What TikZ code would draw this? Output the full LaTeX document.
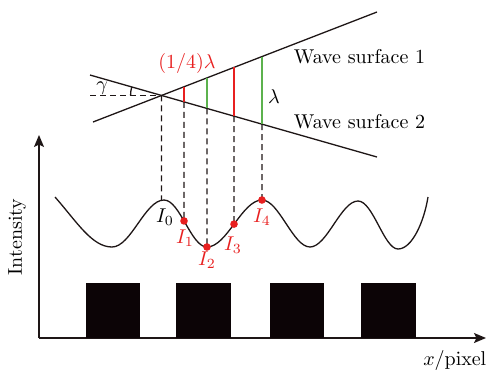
\documentclass[tikz,border=0pt]{standalone}
\usetikzlibrary{arrows.meta,intersections,calc}
\definecolor{wred}{RGB}{232,32,32}
\definecolor{wgreen}{RGB}{92,178,78}
\definecolor{barcol}{RGB}{12,4,6}
\definecolor{linecol}{RGB}{30,22,22}
\begin{document}
\begin{tikzpicture}[x=0.5pt,y=-0.5pt, line width=0.65pt, draw=linecol,
  lbl/.style={font=\fontsize{10}{12}\selectfont, inner sep=0pt},
  surf/.style={line width=0.65pt},
  guide/.style={dash pattern=on 3pt off 2pt, line width=0.6pt},
  redseg/.style={draw=wred, line width=0.65pt},
  greenseg/.style={draw=wgreen, line width=0.65pt},
  dot/.style={circle, fill=wred, draw=none, inner sep=0pt, minimum size=3.8pt},
  bar/.style={fill=barcol, draw=none},
  axis/.style={line width=0.7pt, -{Stealth[length=6pt,width=5pt,inset=1.2pt]}}]
\useasboundingbox (0,0) rectangle (488,371);

% wave surfaces
\coordinate (s1a) at (93,122); \coordinate (s1b) at (377,12);
\coordinate (s2a) at (90,75);  \coordinate (s2b) at (377,157);
\draw[surf, name path=s1] (s1a) -- (s1b);
\draw[surf, name path=s2] (s2a) -- (s2b);
\path[name intersections={of=s1 and s2, by=O}];

% horizontal dashed and gamma arc
\coordinate (hs) at (90,96);
\draw[guide] (hs |- O) -- (O);
\draw let \p1=($(s2a)-(O)$), \n1={atan2(\y1,\x1)} in
  ($(O)+(-15.5pt,0pt)$) arc[start angle=180, end angle=\n1, radius=15.5pt];

% colored segments between surfaces
\coordinate (t1) at (184,86.75);  \coordinate (b1) at (184,101.86);
\coordinate (t2) at (207,77.85);  \coordinate (b2) at (207,108.43);
\coordinate (t3) at (234,67.39);  \coordinate (b3) at (234,116.14);
\coordinate (t4) at (262,56.54);  \coordinate (b4) at (262,124.14);
\draw[redseg] (t1) -- (b1);
\draw[greenseg] (t2) -- (b2);
\draw[redseg] (t3) -- (b3);
\draw[greenseg] (t4) -- (b4);

% intensity curve
\draw[name path=wave] (55,197) .. controls (77,222) and (92,247) .. (112,247)
  .. controls (131,247) and (145,200) .. (164,200)
  .. controls (180,200) and (191,247) .. (207,247)
  .. controls (227,247) and (242,200) .. (262,200)
  .. controls (279,200) and (293,247) .. (310,247)
  .. controls (327,247) and (341,201) .. (358,201)
  .. controls (373,201) and (384,249) .. (398,249)
  .. controls (412,249) and (424,222) .. (428,197);

% vertical guides down to the curve
\path[name path=g0] (O) -- ++(0,200);
\path[name path=g1] (b1) -- ++(0,200);
\path[name path=g2] (b2) -- ++(0,200);
\path[name path=g3] (b3) -- ++(0,200);
\path[name path=g4] (b4) -- ++(0,200);
\path[name intersections={of=wave and g0, by=p0}];
\path[name intersections={of=wave and g1, by=p1}];
\path[name intersections={of=wave and g2, by=p2}];
\path[name intersections={of=wave and g3, by=p3}];
\path[name intersections={of=wave and g4, by=p4}];
\draw[guide] (O) -- (p0);
\draw[guide] (b1) -- (p1);
\draw[guide] (b2) -- (p2);
\draw[guide] (b3) -- (p3);
\draw[guide] (b4) -- (p4);

\node[dot] (d1) at (p1) {};
\node[dot] (d2) at (p2) {};
\node[dot] (d3) at (p3) {};
\node[dot] (d4) at (p4) {};

% labels
\node[lbl] (L0) at (165,217) {$I_0$};
\node[lbl, text=wred] (L1) at (185,238) {$I_1$};
\node[lbl, text=wred] (L2) at (207,260) {$I_2$};
\node[lbl, text=wred] (L3) at (233,245) {$I_3$};
\node[lbl, text=wred] (L4) at (262,217) {$I_4$};
\node[lbl] (ws1) at (359.5,57) {Wave surface 1};
\node[lbl] (ws2) at (359.5,122) {Wave surface 2};
\node[lbl, text=wred] (quarter) at (187,63) {$(1/4)\lambda$};
\node[lbl] (lam) at (274,97) {$\lambda$};
\node[lbl] (gam) at (102,88) {$\gamma$};

% axes
\coordinate (orig) at (39,338);
\coordinate (ytip) at (39,135);
\coordinate (xtip) at (486,338);
\draw[axis] (orig) -- (ytip);
\draw[axis] (orig) -- (xtip);
\node[lbl, rotate=90] (ylab) at (17,237) {Intensity};
\node[lbl, anchor=east] (xlab) at (487,360) {$x/\mathrm{pixel}$};

% bars
\fill[bar] (86,283) rectangle (140,338);
\fill[bar] (176,283) rectangle (231,338);
\fill[bar] (270,283) rectangle (324,338);
\fill[bar] (361,283) rectangle (416,338);
\end{tikzpicture}
\end{document}
